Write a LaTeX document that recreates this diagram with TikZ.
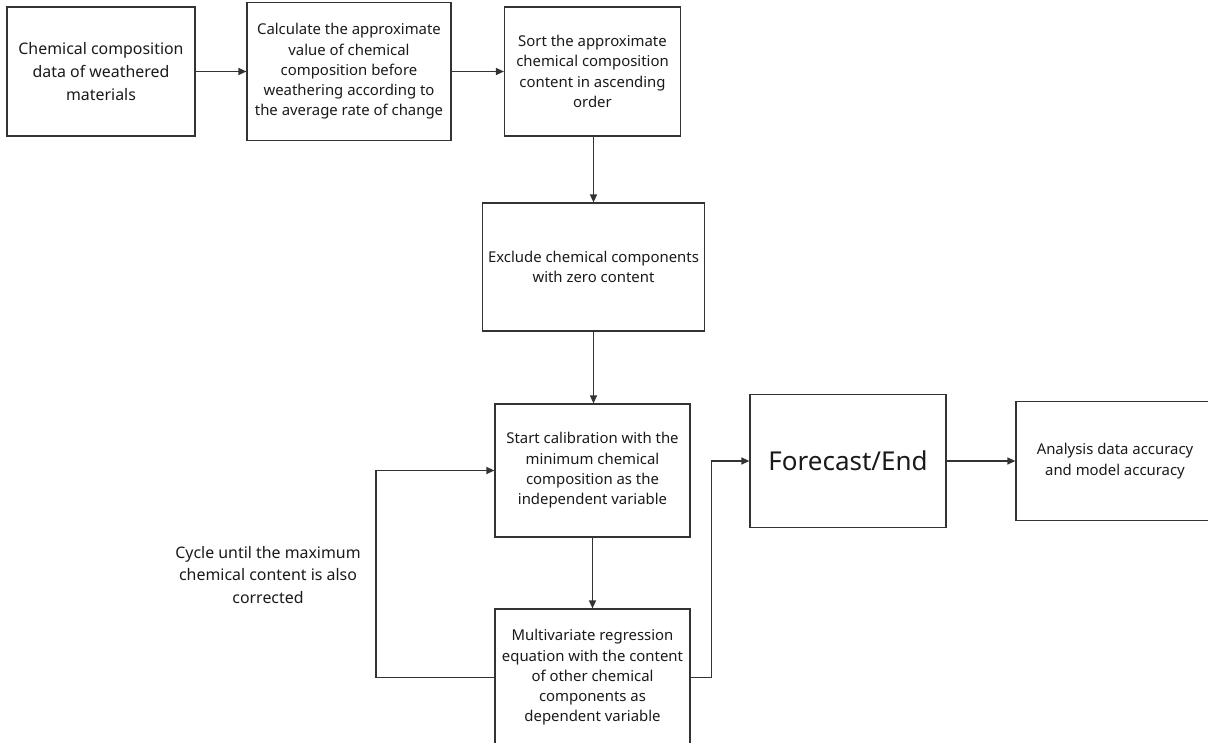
\documentclass[tikz,border=0pt]{standalone}
\usepackage{fontspec}
\setmainfont{Noto Sans}
\usetikzlibrary{arrows.meta}
\definecolor{linec}{HTML}{333333}
\definecolor{textc}{HTML}{1A1A1A}
\tikzset{
  box/.style={draw=linec, line width=1.2pt, inner sep=0pt, align=center, text=textc,
    font=\fontsize{14.9}{20.3}\selectfont},
  bigtxt/.style={font=\fontsize{15.9}{22.8}\selectfont},
  conn/.style={draw=linec, line width=1.2pt, -{Triangle[length=8pt,width=7pt]}},
}
\begin{document}
\begin{tikzpicture}[x=1pt,y=-1pt]
\useasboundingbox (0,0) rectangle (1208,742);
\node[box,bigtxt,minimum width=188pt,minimum height=129pt] (b1) at (101,71.5)
  {Chemical composition\\data of weathered\\materials};
\node[box,minimum width=204pt,minimum height=138pt] (b2) at (349,71.5)
  {Calculate the approximate\\value of chemical\\composition before\\weathering according to\\the average rate of change};
\node[box,minimum width=176pt,minimum height=129pt] (b3) at (592.5,71.5)
  {Sort the approximate\\chemical composition\\content in ascending\\order};
\node[box,minimum width=221.5pt,minimum height=128pt] (b4) at (593.5,267)
  {Exclude chemical components\\with zero content};
\node[box,minimum width=195pt,minimum height=133pt] (b5) at (592.5,470.5)
  {Start calibration with the\\minimum chemical\\composition as the\\independent variable};
\node[box,minimum width=195pt,minimum height=137pt] (b6) at (592.5,677.5)
  {Multivariate regression\\equation with the content\\of other chemical\\components as\\dependent variable};
\node[box,font=\fontsize{26}{30}\selectfont,minimum width=196pt,minimum height=133pt] (fc) at (848,461)
  {Forecast/End};
\node[box,minimum width=198pt,minimum height=119pt] (an) at (1115,461)
  {Analysis data accuracy\\and model accuracy};
\node[bigtxt,align=center,text=textc,inner sep=0pt] (lbl) at (268,575)
  {Cycle until the maximum\\chemical content is also\\corrected};
\draw[conn] (b1.east) -- (b2.west);
\draw[conn] (b2.east) -- (b3.west);
\draw[conn] (b3.south -| b4.north) -- (b4.north);
\draw[conn] (b4.south) -- (b4.south |- b5.north);
\draw[conn] (b5.south) -- (b6.north);
\coordinate (lp) at (376,677.5);
\draw[conn] (b6.west) -- (lp) |- (b5.west);
\coordinate (rp) at (711.5,677.5);
\draw[conn] (b6.east) -- (rp) |- (fc.west);
\draw[conn] (fc.east) -- (an.west);
\end{tikzpicture}
\end{document}
